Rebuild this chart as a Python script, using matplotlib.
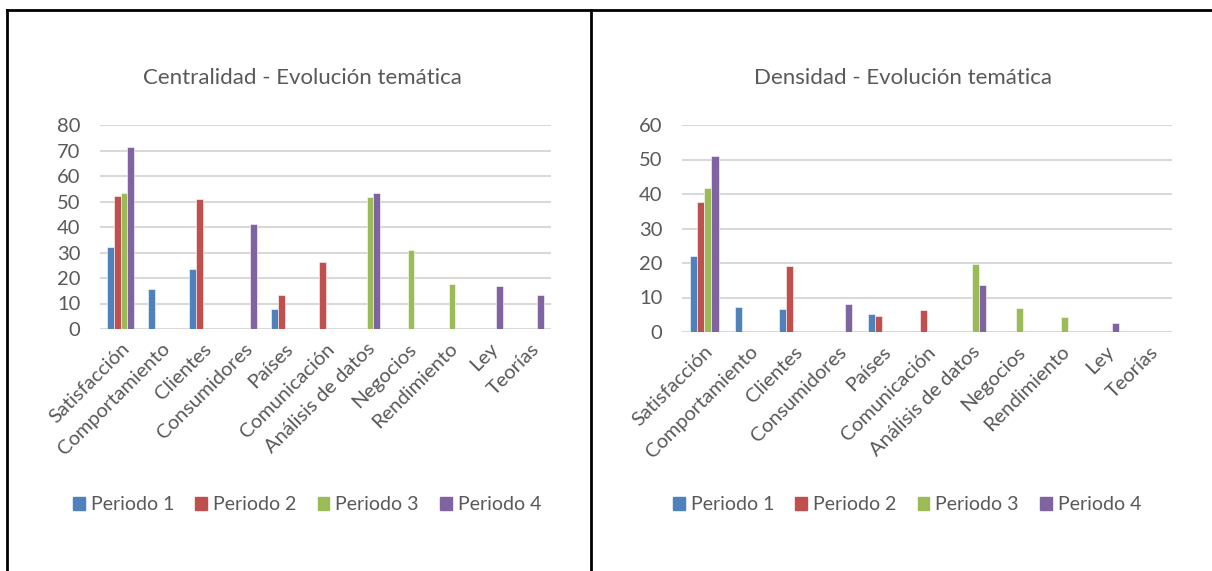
import numpy as np
import matplotlib
matplotlib.use("Agg")
import matplotlib.pyplot as plt
from matplotlib.lines import Line2D

plt.rcParams['font.family'] = ['Lato', 'DejaVu Sans']

# categories and series
temas = ['Satisfacción', 'Comportamiento', 'Clientes', 'Consumidores', 'Países',
         'Comunicación', 'Análisis de datos', 'Negocios', 'Rendimiento', 'Ley', 'Teorías']
periodos = ['Periodo 1', 'Periodo 2', 'Periodo 3', 'Periodo 4']

# Centralidad (0 = no bar)
cen_p1 = [32.0, 15.6, 23.4, 0, 7.7, 0, 0, 0, 0, 0, 0]
cen_p2 = [52.0, 0, 51.0, 0, 13.3, 26.4, 0, 0, 0, 0, 0]
cen_p3 = [53.2, 0, 0, 0, 0, 0, 51.8, 31.0, 17.8, 0, 0]
cen_p4 = [71.2, 0, 0, 41.2, 0, 0, 53.3, 0, 0, 16.9, 13.2]

# Densidad
den_p1 = [22.0, 7.2, 6.6, 0, 5.2, 0, 0, 0, 0, 0, 0]
den_p2 = [37.8, 0, 19.2, 0, 4.6, 6.5, 0, 0, 0, 0, 0]
den_p3 = [41.7, 0, 0, 0, 0, 0, 19.8, 6.9, 4.4, 0, 0]
den_p4 = [51.0, 0, 0, 8.0, 0, 0, 13.5, 0, 0, 2.6, 0.3]

colors = ['#4F81BD', '#C0504D', '#9BBB59', '#8064A2']
text_col = '#595959'

W, H = 1212, 571
fig = plt.figure(figsize=(W / 100, H / 100), dpi=100)


def px_axes(x0, y_top, x1, y_bot):
    return fig.add_axes([x0 / W, 1 - y_bot / H, (x1 - x0) / W, (y_bot - y_top) / H])


def draw_chart(ax, series, ymax, step, title, title_x, leg_x):
    x = np.arange(len(temas))
    bw = 0.16
    for i, vals in enumerate(series):
        ax.bar(x + (i - 1.5) * bw, vals, width=bw, color=colors[i],
               edgecolor='white', linewidth=0.4, label=periodos[i], zorder=3)
    ax.set_xlim(-0.5, len(temas) - 0.5)
    ax.set_ylim(0, ymax)
    ax.set_yticks(np.arange(0, ymax + 1, step))
    ax.yaxis.grid(True, color='#d9d9d9', linewidth=1.5, zorder=0)
    ax.set_axisbelow(True)
    for s in ax.spines.values():
        s.set_visible(False)
    ax.tick_params(axis='both', length=0, colors=text_col, labelsize=14.5)
    ax.tick_params(axis='y', pad=14)
    ax.set_xticks(x)
    ax.set_xticklabels(temas, rotation=45, ha='right', rotation_mode='anchor')
    ax.tick_params(axis='x', pad=8)
    fig.text(title_x / W, 1 - 78 / H, title, ha='center', va='center',
             fontsize=16, color=text_col)
    handles = [plt.Rectangle((0, 0), 1, 1, color=c) for c in colors]
    fig.legend(handles, periodos, loc='center', bbox_to_anchor=(leg_x / W, 1 - 505 / H),
               ncol=4, frameon=False, fontsize=14, labelcolor=text_col,
               handlelength=0.6, handleheight=0.6, handletextpad=0.3, columnspacing=1.1)


ax1 = px_axes(100, 125, 551, 329)
draw_chart(ax1, [cen_p1, cen_p2, cen_p3, cen_p4], 80, 10,
           'Centralidad - Evolución temática', 302, 307)

ax2 = px_axes(682, 125, 1172, 332)
draw_chart(ax2, [den_p1, den_p2, den_p3, den_p4], 60, 10,
           'Densidad - Evolución temática', 903, 907)

# table borders
for xs, ys in [([7, 7], [10, H]), ([7, W], [10, 10]), ([591, 591], [10, H])]:
    fig.add_artist(Line2D([v / W for v in xs], [1 - v / H for v in ys],
                          color='black', linewidth=2, transform=fig.transFigure))

fig.savefig('out.png', dpi=100, facecolor='white')
